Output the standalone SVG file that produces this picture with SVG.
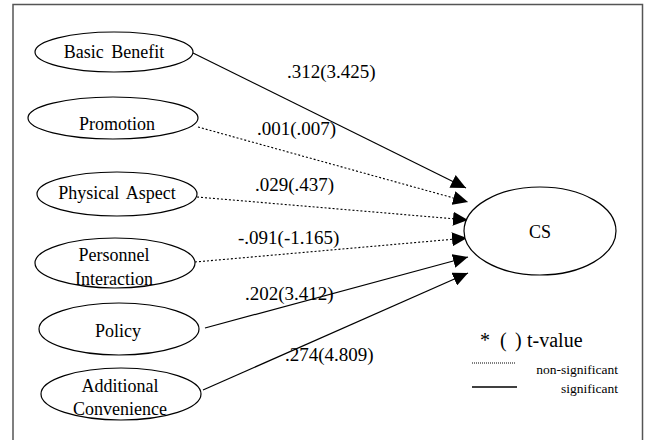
<svg xmlns="http://www.w3.org/2000/svg" width="647" height="440" viewBox="0 0 647 440">
<defs>
<marker id="ah" markerUnits="userSpaceOnUse" markerWidth="16" markerHeight="14" refX="15" refY="7" orient="auto">
<path d="M0,0 L15,7 L0,14 z" fill="#000"/>
</marker>
<style>
text{font-family:'Liberation Serif','Times New Roman',serif;fill:#000}
.node ellipse{fill:#fff;stroke:#000;stroke-width:1.2}
.lbl{font-size:18px;text-anchor:middle;word-spacing:3px}
.el{font-size:19px}
.sig{stroke:#000;stroke-width:1.2;fill:none;marker-end:url(#ah)}
.ns{stroke:#000;stroke-width:1.1;fill:none;stroke-dasharray:2,2;marker-end:url(#ah)}
</style>
</defs>
<rect x="0" y="0" width="647" height="440" fill="#fff"/>
<rect x="13" y="4.5" width="629.5" height="445" fill="none" stroke="#555" stroke-width="1.5"/>

<g id="connectors">
<line class="sig" x1="193" y1="53" x2="466" y2="188"/>
<line class="ns" x1="198" y1="127" x2="468" y2="202"/>
<line class="ns" x1="197" y1="197" x2="468" y2="220"/>
<line class="ns" x1="195" y1="262" x2="467" y2="238"/>
<line class="sig" x1="205" y1="328" x2="468" y2="257"/>
<line class="sig" x1="203" y1="390" x2="468" y2="273"/>
</g>

<g id="edge-labels">
<text class="el" x="287" y="78">.312(3.425)</text>
<text class="el" x="257" y="135">.001(.007)</text>
<text class="el" x="255" y="191">.029(.437)</text>
<text class="el" x="238" y="244">-.091(-1.165)</text>
<text class="el" x="245" y="300">.202(3.412)</text>
<text class="el" x="285" y="361">.274(4.809)</text>
</g>

<g id="basic-benefit" class="node">
<ellipse cx="114" cy="52" rx="79" ry="20"/>
<text class="lbl" x="114" y="58">Basic Benefit</text>
</g>
<g id="promotion" class="node">
<ellipse cx="113" cy="118" rx="85" ry="21"/>
<text class="lbl" x="117" y="130">Promotion</text>
</g>
<g id="physical-aspect" class="node">
<ellipse cx="117" cy="194" rx="80" ry="22"/>
<text class="lbl" x="117" y="199">Physical Aspect</text>
</g>
<g id="personnel-interaction" class="node">
<ellipse cx="115" cy="263" rx="80" ry="25"/>
<text class="lbl" x="114" y="261">Personnel</text>
<text class="lbl" x="114" y="285">Interaction</text>
</g>
<g id="policy" class="node">
<ellipse cx="119" cy="329" rx="80" ry="26"/>
<text class="lbl" x="118" y="337">Policy</text>
</g>
<g id="additional-convenience" class="node">
<ellipse cx="121" cy="394" rx="80" ry="26"/>
<text class="lbl" x="120" y="392">Additional</text>
<text class="lbl" x="120" y="415">Convenience</text>
</g>
<g id="cs" class="node">
<ellipse cx="540" cy="231" rx="76" ry="44"/>
<text class="lbl" x="540" y="238">CS</text>
</g>

<g id="legend">
<text font-size="20" y="347"><tspan x="480">*</tspan><tspan x="500">(</tspan><tspan x="515">)</tspan><tspan x="527">t-value</tspan></text>
<line x1="472" y1="363" x2="516" y2="363" stroke="#000" stroke-width="1" stroke-dasharray="1,1"/>
<line x1="472" y1="387" x2="517" y2="387" stroke="#000" stroke-width="1.3"/>
<text font-size="13.5" x="618" y="374" text-anchor="end">non-significant</text>
<text font-size="13.5" x="618" y="393" text-anchor="end">significant</text>
</g>
</svg>
